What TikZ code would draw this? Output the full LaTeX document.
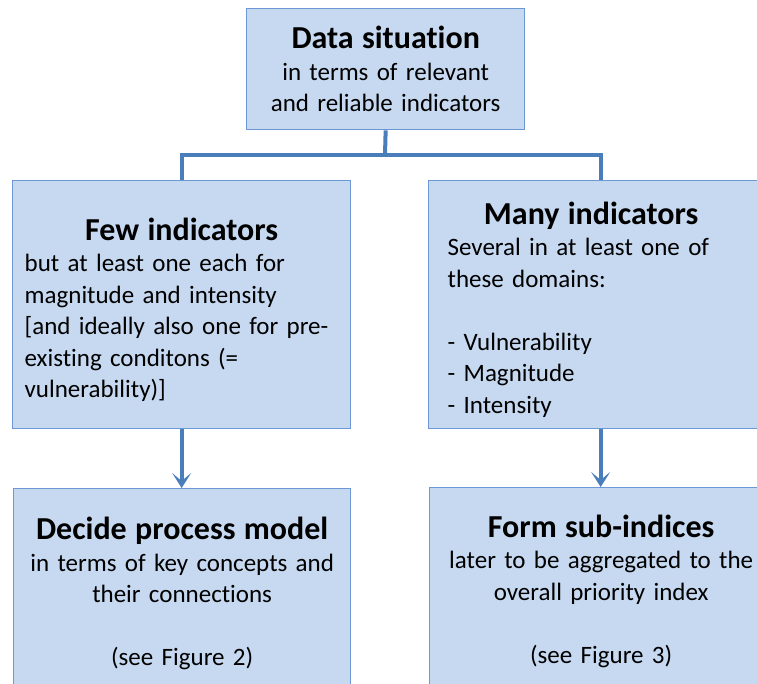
\documentclass[tikz,border=0pt]{standalone}
\usepackage{fontspec}
\setmainfont[Ligatures={NoCommon}]{Carlito}
\usepackage{tikz}
\usetikzlibrary{arrows.meta,positioning,calc}
\definecolor{boxfill}{RGB}{198,217,240}
\definecolor{boxline}{RGB}{108,153,214}
\definecolor{linkblue}{RGB}{74,126,187}
\newcommand{\titlefont}{\fontsize{32}{36}\selectfont\bfseries}
\newcommand{\bodyfont}{\fontsize{25}{31.5}\selectfont}

\begin{document}
\begin{tikzpicture}[x=1pt, y=-1pt,
    box/.style={draw=boxline, line width=1.3pt, fill=boxfill, inner sep=0pt,
        anchor=north west, font=\bodyfont},
    link/.style={draw=linkblue, line width=4pt},
    arrowlink/.style={link, -{Stealth[length=15pt, width=19pt, inset=8pt]}}]
    \useasboundingbox (0,0) rectangle (757,683);
    \clip (0,0) rectangle (757,683);

    % Top box
    \node[box, minimum width=278pt, minimum height=121pt, text width=270pt, align=center]
        (data) at (246,8)
        {{\titlefont Data situation}\\ in terms of relevant\\ and reliable indicators};

    % Middle row
    \node[box, minimum width=338pt, minimum height=248pt, text width=314pt, align=left]
        (few) at (12,180)
        {\rule{0pt}{33pt}\makebox[314pt]{\titlefont Few indicators}\\
         but at least one each for\\ magnitude and intensity\\
         {[}and ideally also one for pre-\\ existing conditons (=\\ vulnerability)]};
    \node[box, minimum width=344pt, minimum height=248pt, text width=306pt, align=left]
        (many) at (428,180)
        {\rule{0pt}{32pt}\makebox[306pt][c]{\hspace*{-19pt}\titlefont Many indicators}\\
         Several in at least one of\\ these domains:\\ \mbox{}\\
         - Vulnerability\\ - Magnitude\\ - Intensity};

    % Bottom row (cut off by the page edge)
    \node[box, minimum width=337pt, minimum height=210pt, text width=330pt, align=center]
        (decide) at (13,488)
        {{\titlefont Decide process model}\\ in terms of key concepts and\\
         their connections\\ \mbox{}\\ (see Figure 2)};
    \node[box, minimum width=343pt, minimum height=207pt, text width=336pt, align=center]
        (form) at (429,487)
        {{\titlefont Form sub-indices}\\ later to be aggregated to the\\
         overall priority index\\ \mbox{}\\ (see Figure 3)};

    % Connectors
    \coordinate (split) at (385,155);
    \draw[link] (data.south) -- (split);
    \draw[link] (few.north) |- (split) -| (many.north);
    \draw[arrowlink] (few.south) -- (few.south |- decide.north);
    \draw[arrowlink] (many.south) -- (many.south |- form.north);
\end{tikzpicture}
\end{document}
